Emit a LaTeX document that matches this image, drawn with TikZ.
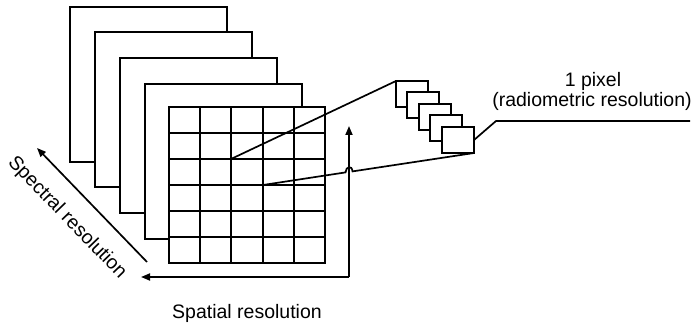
\documentclass[tikz,border=0pt]{standalone}
\usepackage{fontspec}
\setmainfont{Liberation Sans}
\usetikzlibrary{arrows.meta}
\begin{document}
\begin{tikzpicture}[x=1pt,y=-1pt, line width=1.7pt,
 frame/.style={draw, fill=white, minimum width=157pt, minimum height=155pt, anchor=north west, inner sep=0pt, outer sep=0pt},
 pix/.style={draw, fill=white, minimum width=32pt, minimum height=26pt, anchor=north west, inner sep=0pt, outer sep=0pt},
 gridline/.style={line width=1.9pt},
 lbl/.style={font=\fontsize{19.5}{23}\selectfont, inner sep=0pt},
 arr/.style={-{Triangle[length=9pt,width=7pt]}}]
\useasboundingbox (0,0) rectangle (697,326);
% spectral bands
\node[frame] (f1) at (70,7) {};
\node[frame] (f2) at (95,32) {};
\node[frame] (f3) at (120,58) {};
\node[frame] (f4) at (145,84) {};
\node[frame, minimum width=156pt, minimum height=156pt] (grid) at (169,107) {};
\foreach \dx in {31,62,94,125}
  \draw[gridline] ([xshift=\dx pt]grid.north west) -- ([xshift=\dx pt]grid.south west);
\foreach \dy in {26,52,78,104,130}
  \draw[gridline] ([yshift=-\dy pt]grid.north west) -- ([yshift=-\dy pt]grid.north east);
\coordinate (g22) at ([xshift=62pt,yshift=-52pt]grid.north west);
\coordinate (g33) at ([xshift=94pt,yshift=-78pt]grid.north west);
% pixel layers
\node[pix] (p1) at (396,81) {};
\node[pix] (p2) at (407,92) {};
\node[pix] (p3) at (419,104) {};
\node[pix] (p4) at (430,115) {};
\node[pix] (p5) at (442,127) {};
% spatial arrows
\coordinate (corner) at (349,277);
\coordinate (spl) at (141,277);
\coordinate (spt) at (349,126);
\draw[arr] (corner) -- (spl);
\draw[arr] (corner) -- (spt);
% zoom lines
\coordinate (hopA) at (345.5,172.4);
\coordinate (hopB) at (352.5,171.4);
\draw (g22) -- (p1.north west);
\draw (g33) -- (hopA) .. controls (346,166) and (352,165) .. (hopB) -- (p5.south east);
% spectral arrow
\coordinate (s0) at (147,262);
\coordinate (s1) at (37,148);
\draw[arr] (s0) -- (s1);
% label leader
\coordinate (lk) at (496,121);
\coordinate (le) at (690,121);
\draw (p5.east) -- (lk) -- (le);
% texts
\node[lbl, rotate=-46] (spectral) at (67,218) {Spectral resolution};
\node[lbl, anchor=base] (spatial) at (247,319) {Spatial resolution};
\node[lbl, anchor=base] (onepix) at (593,87) {1 pixel};
\node[lbl, anchor=base] (radio) at (592,107) {(radiometric resolution)};
\end{tikzpicture}
\end{document}
